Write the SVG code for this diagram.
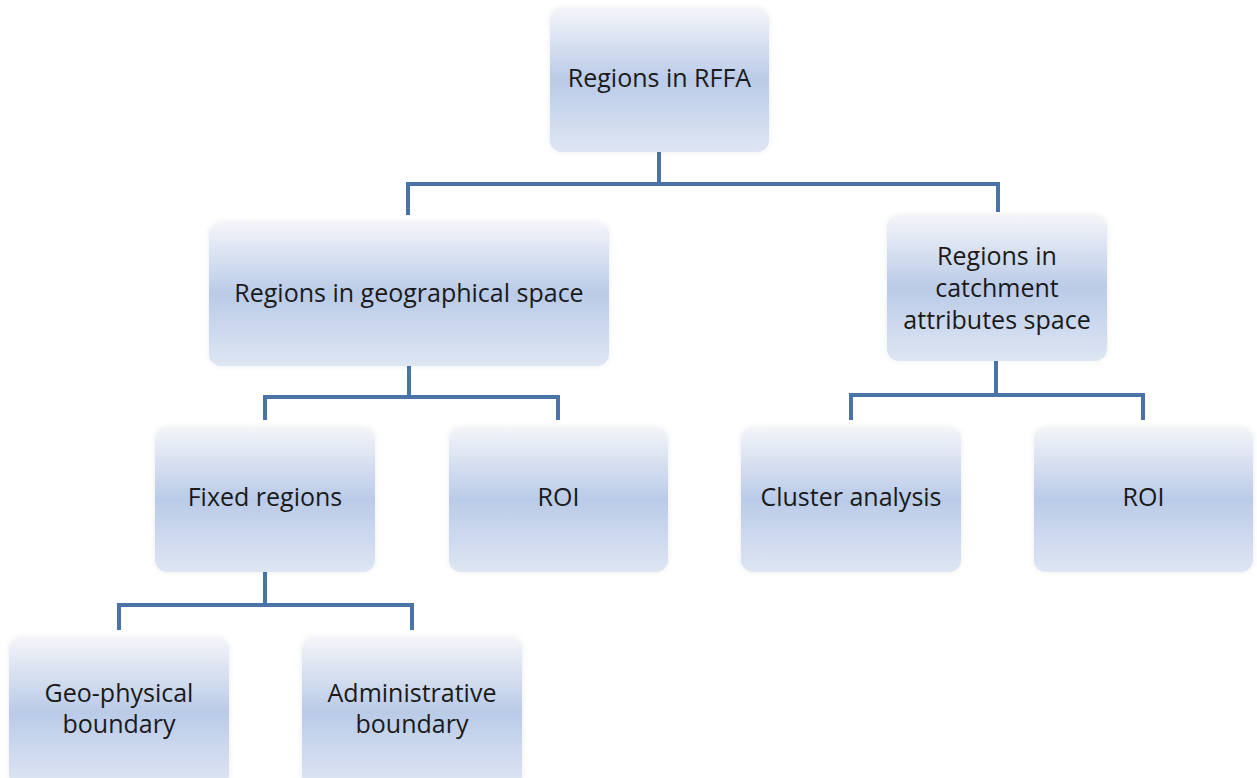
<svg xmlns="http://www.w3.org/2000/svg" width="1257" height="778" viewBox="0 0 1257 778">
<defs>
<linearGradient id="g" x1="0" y1="0" x2="0" y2="1">
<stop offset="0" stop-color="#f4f5f9"/>
<stop offset="0.5" stop-color="#bacbe8"/>
<stop offset="1" stop-color="#dee6f3"/>
</linearGradient>
<filter id="sh" x="-10%" y="-10%" width="120%" height="120%">
<feGaussianBlur in="SourceAlpha" stdDeviation="3"/>
<feComponentTransfer><feFuncA type="linear" slope="0.08"/></feComponentTransfer>
<feMerge><feMergeNode/><feMergeNode in="SourceGraphic"/></feMerge>
</filter>
</defs>
<style>
.box{fill:url(#g);filter:url(#sh)}
.t{font-family:"Open Sans","Noto Sans",sans-serif;font-size:25px;fill:#1a1a1a;text-anchor:middle}
.c{fill:none;stroke:#4a74a8;stroke-width:4;stroke-linejoin:miter}
</style>
<rect width="1257" height="778" fill="#ffffff"/>
<g id="connectors">
<path class="c" d="M659 152V184M408 215V184H998V212"/>
<path class="c" d="M409 366V397M265 420V397H558V420"/>
<path class="c" d="M996 361V395M851 420V395H1143V420"/>
<path class="c" d="M265 572V605M119 630V605H412V630"/>
</g>
<g id="root"><rect class="box" x="550" y="8" width="219" height="144" rx="12"/><text class="t" x="659.5" y="87">Regions in RFFA</text></g>
<g id="geo"><rect class="box" x="209" y="222" width="400" height="144" rx="12"/><text class="t" x="409" y="302">Regions in geographical space</text></g>
<g id="catch"><rect class="box" x="887" y="215" width="220" height="146" rx="12"/><text class="t" x="997" y="265">Regions in</text><text class="t" x="997" y="297">catchment</text><text class="t" x="997" y="329">attributes space</text></g>
<g id="fixed"><rect class="box" x="155" y="427" width="220" height="145" rx="12"/><text class="t" x="265" y="506">Fixed regions</text></g>
<g id="roi1"><rect class="box" x="449" y="427" width="219" height="145" rx="12"/><text class="t" x="558.5" y="506">ROI</text></g>
<g id="cluster"><rect class="box" x="741" y="427" width="220" height="145" rx="12"/><text class="t" x="851" y="506">Cluster analysis</text></g>
<g id="roi2"><rect class="box" x="1034" y="427" width="219" height="145" rx="12"/><text class="t" x="1143.5" y="506">ROI</text></g>
<g id="geophys"><rect class="box" x="9" y="637" width="220" height="150" rx="12"/><text class="t" x="119" y="702">Geo-physical</text><text class="t" x="119" y="733">boundary</text></g>
<g id="admin"><rect class="box" x="302" y="637" width="220" height="150" rx="12"/><text class="t" x="412" y="702">Administrative</text><text class="t" x="412" y="733">boundary</text></g>
</svg>
